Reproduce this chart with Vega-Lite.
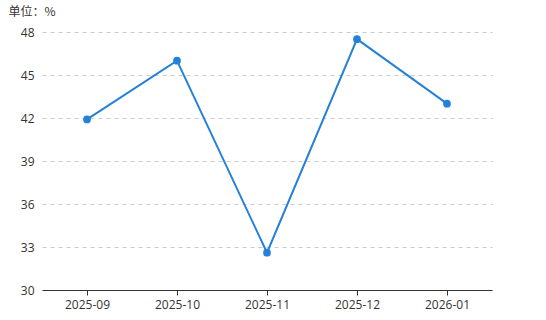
{
  "$schema": "https://vega.github.io/schema/vega-lite/v6.json",
  "width": 450,
  "height": 258,
  "autosize": {"type": "none"},
  "padding": {"left": 42, "top": 32, "right": 54, "bottom": 30},
  "background": "white",
  "config": {
    "view": {"stroke": null},
    "font": "Noto Sans CJK SC",
    "axis": {"labelFont": "Open Sans", "titleFont": "Noto Sans CJK SC"}
  },
  "data": {
    "values": [
      {"month": "2025-09", "value": 41.9},
      {"month": "2025-10", "value": 46.0},
      {"month": "2025-11", "value": 32.6},
      {"month": "2025-12", "value": 47.5},
      {"month": "2026-01", "value": 43.0}
    ]
  },
  "encoding": {
    "x": {
      "field": "month",
      "type": "ordinal",
      "scale": {"type": "point", "padding": 0.5},
      "axis": {
        "title": null,
        "labelAngle": 0,
        "labelFontSize": 12,
        "labelColor": "#333",
        "labelPadding": 4,
        "domainColor": "#333",
        "tickColor": "#333",
        "tickSize": 5,
        "grid": false
      }
    },
    "y": {
      "field": "value",
      "type": "quantitative",
      "scale": {"domain": [30, 48], "nice": false, "zero": false},
      "axis": {
        "values": [30, 33, 36, 39, 42, 45, 48],
        "title": "单位：%",
        "titleAngle": 0,
        "titleAlign": "left",
        "titleBaseline": "alphabetic",
        "titleX": -34,
        "titleY": -17,
        "titleFontSize": 12,
        "titleFontWeight": "normal",
        "titleColor": "#333",
        "labelFontSize": 12,
        "labelColor": "#333",
        "labelPadding": 8,
        "domain": false,
        "ticks": false,
        "grid": true,
        "gridColor": "#ccc",
        "gridDash": [4, 4],
        "gridWidth": 1
      }
    }
  },
  "layer": [
    {"mark": {"type": "line", "color": "#2581d8", "strokeWidth": 2}},
    {"mark": {"type": "point", "filled": true, "color": "#2581d8", "size": 60, "opacity": 1}}
  ]
}
